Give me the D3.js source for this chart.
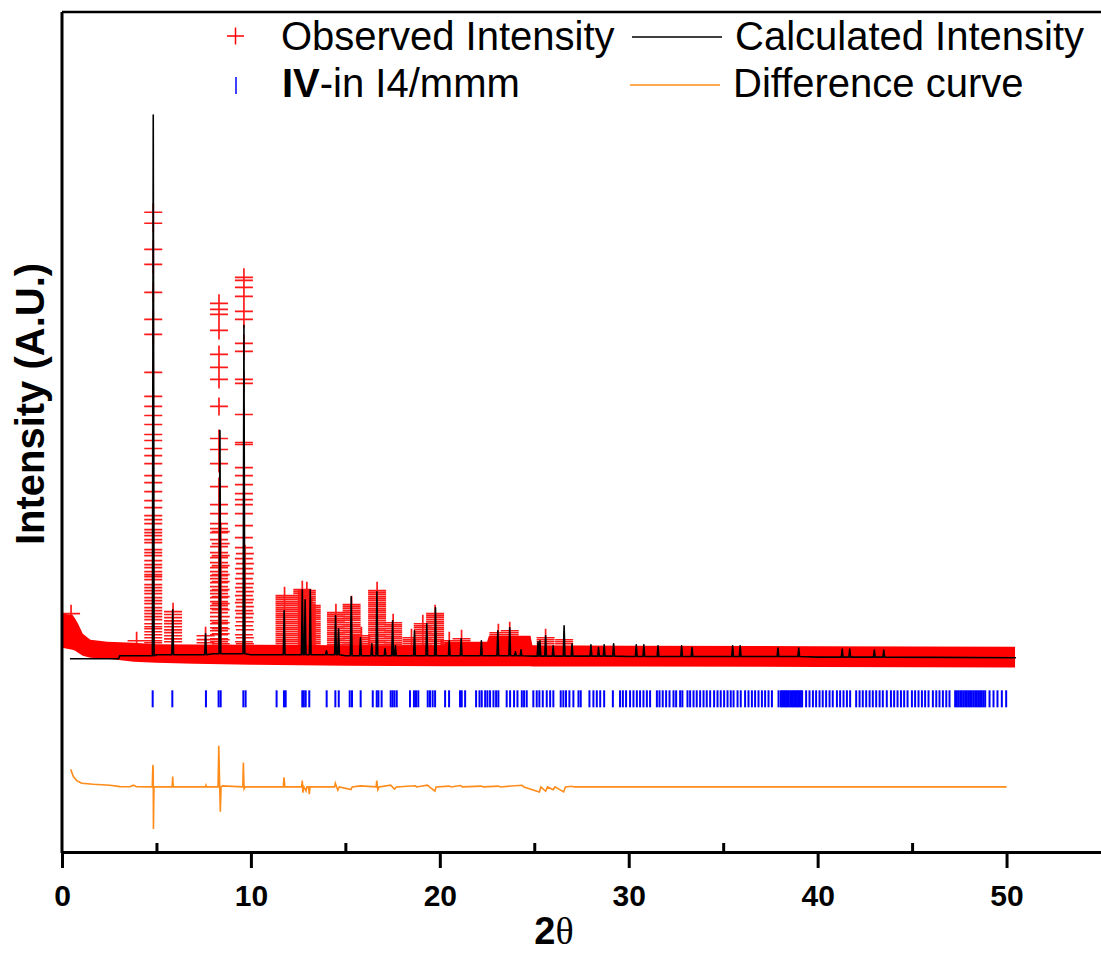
<!DOCTYPE html>
<html>
<head>
<meta charset="utf-8">
<script src="https://cdn.jsdelivr.net/npm/d3@7"></script>
<style>
  html, body { margin: 0; padding: 0; background: #fff; }
  svg { display: block; font-family: "Liberation Sans", Arial, sans-serif; }
</style>
</head>
<body>
<svg id="chart" width="1101" height="956"></svg>
<script>
// ---- data (2-theta in degrees, intensity in counts) ----
const xTicksMajor = [0, 10, 20, 30, 40, 50];
const xTicksMinor = [5, 15, 25, 35, 45];

// envelope of the dense observed points along the background: [2theta, low, high]
const obsBand = [
  [0.0, 1400, 3100], [0.55, 1300, 3050], [0.7, 1250, 2850], [0.85, 1150, 2600],
  [1.1, 1000, 2100], [1.5, 900, 1800], [2.4, 850, 1700], [3.8, 700, 1650],
  [5.0, 650, 1580], [7.0, 600, 1560], [10, 550, 1550], [15, 500, 1530],
  [20.2, 480, 1530], [20.3, 480, 1700], [22.5, 480, 1700], [22.6, 480, 2000],
  [24.8, 480, 2000], [24.9, 470, 1520], [30, 460, 1500], [40, 440, 1480],
  [50.45, 420, 1450]
];

// observed points stacked on the peak flanks: [2theta, [intensities]]
const obsPeaks = [
  [0.48, [3100]],
  [3.95, [1750]],
  [4.83, [23150, 22600, 21300, 20550, 19150, 17800, 17050, 15150, 13950, 13450, 13000, 12550,
          12050, 11750, 11350, 11000, 10600, 10000, 9650, 9200, 8750, 8400, 8000, 7800, 7600,
          7300, 7150, 7000, 6800, 6650, 6300, 6150, 6000, 5750, 5550, 5400, 5200, 5050, 4950,
          4800, 4550, 4400, 4250, 4100, 3900, 3750, 3600, 3400, 3250, 3100, 2950, 2800, 2600,
          2450, 2350, 2200, 2050, 1900, 1750, 1650, 1500]],
  [5.88, [3200, 3060, 2900, 2740, 2610, 2450, 2290, 2160, 2000, 1840, 1700]],
  [7.60, [2000, 1810, 1650]],
  [8.31, [18600, 18300, 18050, 17250, 16050, 15400, 14800, 13450, 11850, 11300, 10600, 9450,
          8550, 8100, 7600, 7350, 7150, 6800, 6450, 6150, 5900, 5650, 5400, 5200, 5000, 4850,
          4650, 4450, 4250, 4100, 3900, 3700, 3500, 3350, 3150, 2950, 2750, 2600, 2400, 2250,
          2050, 1850, 1700, 1500]],
  [8.40, [7200, 6600, 6000, 5500, 5050, 4700, 4300, 3950, 3600, 3300, 2950, 2650, 2350, 2100, 1800, 1600]],
  [9.63, [19900, 19750, 19400, 18950, 18200, 17800, 16600, 16200, 14800, 14600, 13050, 11650,
          11550, 10400, 10000, 9550, 9100, 8800, 8550, 8100, 7500, 6900, 6400, 5850, 5350, 4850,
          4400, 4000, 3650, 3250, 2900, 2500, 2050, 1700]],
  [9.68, [6100, 5600, 5100, 4600, 4200, 3800, 3450, 3100, 2700, 2300, 1900, 1600]],
  [11.78, [4000, 3900, 3810, 3700, 3600, 3510, 3400, 3300, 3210, 3100, 3000, 2910, 2800, 2700,
           2610, 2500, 2400, 2310, 2200, 2100, 2010, 1900, 1800, 1710, 1600, 1500]],
  [12.72, [4300, 4200, 4110, 4000, 3900, 3810, 3700, 3600, 3510, 3400, 3300, 3210, 3100, 3000,
           2910, 2800, 2700, 2610, 2500, 2400, 2310, 2200, 2100, 2010, 1900, 1800, 1710, 1600, 1500]],
  [12.96, [4250, 4150, 4060, 3950, 3850, 3760, 3650, 3550, 3460, 3350, 3250, 3160, 3050, 2950,
           2860, 2750, 2650, 2560, 2450, 2350, 2260, 2150, 2050, 1960, 1850, 1750, 1660, 1550]],
  [13.22, [3500, 3410, 3300, 3200, 3110, 3000, 2900, 2810, 2700, 2600, 2510, 2400, 2300, 2210,
           2100, 2000, 1910, 1800, 1700, 1610, 1500]],
  [14.50, [3150, 3050, 2960, 2850, 2750, 2660, 2550, 2450, 2360, 2250, 2150, 2060, 1950, 1850,
           1760, 1650, 1550]],
  [15.33, [3550, 3450, 3360, 3250, 3150, 3060, 2950, 2850, 2760, 2650, 2550, 2460, 2350, 2250,
           2160, 2050, 1950, 1860, 1750, 1650, 1560]],
  [15.85, [2000, 1900, 1810, 1700, 1600, 1510]],
  [16.68, [4250, 4150, 4060, 3950, 3850, 3760, 3650, 3550, 3460, 3350, 3250, 3160, 3050, 2950,
           2860, 2750, 2650, 2560, 2450, 2350, 2260, 2150, 2050, 1960, 1850, 1750, 1660, 1550]],
  [17.53, [2650, 2550, 2460, 2350, 2250, 2160, 2050, 1950, 1860, 1750, 1650, 1560]],
  [18.50, [1900, 1800, 1710, 1600, 1500]],
  [19.10, [2600, 2500, 2410, 2300, 2200, 2110, 2000, 1900, 1810, 1700, 1600, 1510]],
  [19.75, [3100, 3000, 2910, 2800, 2700, 2610, 2500, 2400, 2310, 2200, 2100, 2010, 1900, 1800,
           1710, 1600, 1500]],
  [20.50, [1750, 1650, 1550]],
  [21.15, [1850, 1750, 1650]],
  [23.10, [2150, 2050]],
  [23.70, [2250, 2150, 2050]],
  [25.60, [1900, 1800, 1700, 1600]],
  [26.58, [1800, 1700, 1600]]
];

// calculated profile: background knots and peak tops
const calcBg = [
  [0.42, 850], [3.0, 850], [3.05, 1000], [5, 1050], [8, 1100], [10, 1050], [15, 1000],
  [20, 1000], [25, 980], [30, 960], [40, 930], [50.5, 900]
];
const calcPeaks = [
  [4.83, 28000], [5.86, 3300], [7.60, 2100], [8.36, 12250], [9.63, 17500], [11.76, 3250],
  [12.72, 4300], [12.87, 3800], [13.14, 4300], [14.00, 1250], [14.48, 3000], [14.64, 2350],
  [15.31, 3950], [15.80, 1900], [16.40, 1600], [16.67, 4200], [17.10, 1350], [17.50, 2750],
  [17.65, 1500], [18.66, 2250], [19.31, 2600], [19.77, 3400], [20.50, 1750], [21.13, 1850],
  [22.20, 1750], [23.07, 2250], [23.70, 2400], [24.00, 1200], [24.30, 1300], [25.20, 1700],
  [25.30, 1750], [25.60, 2000], [26.00, 1500], [26.58, 2500], [27.00, 1600], [28.00, 1550],
  [28.40, 1415], [28.70, 1550], [29.20, 1600], [30.40, 1550], [30.80, 1550], [31.55, 1500],
  [32.80, 1500], [33.35, 1415], [35.50, 1500], [35.90, 1500], [37.90, 1385], [39.00, 1385],
  [41.30, 1335], [41.70, 1335], [43.00, 1285], [43.50, 1285]
];

// Bragg reflection positions, IV in I4/mmm
const braggTheta = [
  4.80, 5.84, 7.62, 8.29, 8.40, 9.60, 9.72, 11.36, 11.75, 11.84, 12.72, 12.80, 12.90, 13.09,
  14.01, 14.47, 14.65, 15.23, 15.35, 15.81, 16.45, 16.66, 16.75, 16.92, 17.40, 17.50, 17.60,
  17.72, 18.42, 18.63, 18.74, 18.86, 19.36, 19.48, 19.62, 19.75, 20.28, 20.49, 21.07, 21.16,
  21.34, 21.92, 22.10, 22.22, 22.40, 22.52, 22.66, 22.84, 22.98, 23.10, 23.54, 23.72, 23.93,
  24.11, 24.34, 24.46, 24.60, 24.95, 25.13, 25.27, 25.45, 25.66, 25.84, 26.01, 26.40, 26.54,
  26.68, 26.86, 27.07, 27.34, 27.46, 27.92, 28.13, 28.31, 28.49, 28.70, 29.16, 29.54, 29.69,
  29.86, 30.07, 30.25, 30.43, 30.60, 30.78, 30.96, 31.13, 31.49, 31.63, 31.80, 31.98, 32.16,
  32.37, 32.51, 32.72, 32.84, 33.11, 33.25, 33.43, 33.60, 33.78, 33.96, 34.13, 34.31, 34.52,
  34.70, 34.87, 35.05, 35.23, 35.40, 35.55, 35.76, 35.93, 36.16, 36.34, 36.52, 36.69, 36.87,
  37.05, 37.22, 37.40, 37.58, 37.93, 38.05, 38.12, 38.19, 38.26, 38.33, 38.40, 38.47, 38.55,
  38.62, 38.69, 38.76, 38.83, 38.90, 38.97, 39.04, 39.11, 39.18, 39.39, 39.57, 39.75, 39.92,
  40.10, 40.27, 40.45, 40.63, 40.80, 41.02, 41.19, 41.37, 41.55, 41.72, 42.04, 42.22, 42.39,
  42.57, 42.75, 42.92, 43.10, 43.28, 43.45, 43.66, 43.88, 44.05, 44.23, 44.41, 44.58, 44.76,
  44.99, 45.16, 45.34, 45.52, 45.69, 45.87, 46.10, 46.28, 46.45, 46.63, 46.81, 46.98, 47.28,
  47.37, 47.46, 47.55, 47.63, 47.72, 47.81, 47.90, 47.99, 48.07, 48.16, 48.25, 48.34, 48.43,
  48.52, 48.60, 48.69, 48.78, 48.87, 49.10, 49.31, 49.52, 49.75, 49.98
];

// difference curve (obs - calc), drawn shifted down
const diffPoints = [
  [0.46, 885], [0.6, 515], [0.78, 315], [1.04, 185], [1.66, 135], [2.54, 85], [3.07, 15],
  [3.6, 10], [3.78, 85], [3.95, 10], [4.78, 0], [4.81, 1100], [4.83, 850], [4.84, -2100],
  [4.87, 0], [5.83, 0], [5.86, 515], [5.89, 0], [7.59, 0], [7.62, 85], [7.65, 0], [8.26, 0],
  [8.30, 2050], [8.34, 300], [8.38, -1235], [8.42, 0], [8.5, 50], [9.57, 0], [9.60, 1215],
  [9.64, -100], [9.7, 0], [11.72, 0], [11.75, 485], [11.8, 0], [12.68, 0], [12.72, 315],
  [12.75, -285], [12.8, 0], [12.92, -200], [12.96, 0], [13.05, 0], [13.09, -365], [13.13, 0],
  [14.43, 0], [14.47, 185], [14.6, -165], [14.68, 0], [15.3, -135], [15.36, 0], [15.8, 50],
  [16.63, 0], [16.66, 315], [16.72, -135], [16.78, 0], [17.4, 85], [17.6, -110], [17.7, 0],
  [18.7, 60], [18.76, 0], [19.35, 85], [19.45, 0], [19.74, -215], [19.8, 0], [20.5, 40],
  [20.6, 0], [21.1, 70], [21.2, 0], [22.2, 40], [22.3, 0], [23.1, 40], [23.2, 0], [24.35, 85],
  [24.45, 0], [25.27, -250], [25.35, 0], [25.6, -215], [25.7, 0], [26.0, -135], [26.1, 0],
  [26.55, -250], [26.65, 0], [27.0, 30], [27.1, 0], [50, 0]
];

const DIFF_OFFSET = -5550;
const BRAGG_LEVEL = -1150;

// ---- drawing ----
const svg = d3.select("#chart");
const x = d3.scaleLinear().domain([0, 55]).range([62, 1101]);
const y = d3.scaleLinear().domain([-8800, 33150]).range([852, 12]);

const plot = svg.append("g");

// observed background band
plot.append("path")
  .datum(obsBand)
  .attr("d", d3.area().x(d => x(d[0])).y0(d => y(d[1])).y1(d => y(d[2])))
  .attr("fill", "#ff0000");

// observed "+" markers on peaks
const arm = 9;
let crosses = "";
obsPeaks.forEach(([t, levels]) => {
  levels.forEach(v => {
    const px = x(t), py = y(v);
    crosses += `M${px - arm},${py}H${px + arm}M${px},${py - arm}V${py + arm}`;
  });
});
plot.append("path")
  .attr("d", crosses)
  .attr("fill", "none")
  .attr("stroke", "#ff0000")
  .attr("stroke-width", 1.7)
  .attr("stroke-opacity", 0.9);

// calculated profile
const bgTheta = calcBg.map(d => d[0]);
const bgAt = t => calcBg[Math.max(0, d3.bisectRight(bgTheta, t) - 1)][1];
const hw = 0.045;
const calcVerts = calcBg.concat(
  calcPeaks.flatMap(([t, top]) => [[t - hw, bgAt(t)], [t, top], [t + hw, bgAt(t)]])
).sort((a, b) => a[0] - b[0]);

plot.append("path")
  .datum(calcVerts)
  .attr("d", d3.line().x(d => x(d[0])).y(d => y(d[1])))
  .attr("fill", "none")
  .attr("stroke", "#000")
  .attr("stroke-width", 1.6)
  .attr("stroke-linejoin", "round");

// Bragg ticks
plot.append("g").selectAll("line")
  .data(braggTheta)
  .join("line")
  .attr("x1", d => x(d)).attr("x2", d => x(d))
  .attr("y1", y(BRAGG_LEVEL) - 8.5).attr("y2", y(BRAGG_LEVEL) + 8.5)
  .attr("stroke", "#0000ff")
  .attr("stroke-width", 2);

// difference curve
plot.append("path")
  .datum(diffPoints)
  .attr("d", d3.line().x(d => x(d[0])).y(d => y(d[1] + DIFF_OFFSET)))
  .attr("fill", "none")
  .attr("stroke", "#ff8c1a")
  .attr("stroke-width", 1.6);

// ---- axes ----
const xAxis = svg.append("g")
  .attr("transform", "translate(0,852)")
  .call(d3.axisBottom(x).tickValues(xTicksMajor).tickSizeInner(16).tickSizeOuter(0).tickFormat(d3.format("d")));
xAxis.select(".domain").attr("stroke", "#000").attr("stroke-width", 3);
xAxis.selectAll(".tick line").attr("stroke", "#000").attr("stroke-width", 3);
xAxis.selectAll(".tick text")
  .attr("y", 54).attr("dy", null)
  .attr("fill", "#000")
  .style("font-family", '"Liberation Sans", Arial, sans-serif')
  .style("font-size", "30px").style("font-weight", "bold");

const xMinor = svg.append("g")
  .attr("transform", "translate(0,852)")
  .call(d3.axisTop(x).tickValues(xTicksMinor).tickSize(9).tickFormat(""));
xMinor.select(".domain").remove();
xMinor.selectAll(".tick line").attr("stroke", "#000").attr("stroke-width", 3);

// left axis line and top frame line
svg.append("line").attr("x1", 62).attr("x2", 62).attr("y1", 12).attr("y2", 853)
  .attr("stroke", "#000").attr("stroke-width", 3);
svg.append("line").attr("x1", 62).attr("x2", 1101).attr("y1", 12).attr("y2", 12)
  .attr("stroke", "#000").attr("stroke-width", 2.5);

// axis titles
svg.append("text")
  .attr("transform", "translate(44,404) rotate(-90)")
  .attr("text-anchor", "middle")
  .style("font-size", "40px").style("font-weight", "bold")
  .text("Intensity (A.U.)");

const xt = svg.append("text")
  .attr("x", 554).attr("y", 944)
  .attr("text-anchor", "middle")
  .style("font-size", "38px");
xt.append("tspan").style("font-weight", "bold").text("2");
xt.append("tspan").style("font-family", '"Liberation Serif", "DejaVu Serif", serif').text("θ");

// ---- legend ----
const lg = svg.append("g");
lg.append("path")
  .attr("d", "M227,36H244M235.5,27.5V44.5")
  .attr("stroke", "#ff0000").attr("stroke-width", 1.5);
lg.append("text").attr("x", 281).attr("y", 50).style("font-size", "40px").text("Observed Intensity");

lg.append("line").attr("x1", 236).attr("x2", 236).attr("y1", 77).attr("y2", 94)
  .attr("stroke", "#0000ff").attr("stroke-width", 1.5);
const t2 = lg.append("text").attr("x", 282).attr("y", 97).style("font-size", "40px");
t2.append("tspan").style("font-weight", "bold").text("IV");
t2.append("tspan").text("-in I4/mmm");

lg.append("line").attr("x1", 632).attr("x2", 722).attr("y1", 37).attr("y2", 37)
  .attr("stroke", "#000").attr("stroke-width", 1.5);
lg.append("text").attr("x", 735).attr("y", 50).style("font-size", "40px").text("Calculated Intensity");

lg.append("line").attr("x1", 630).attr("x2", 720).attr("y1", 85).attr("y2", 85)
  .attr("stroke", "#ff8c1a").attr("stroke-width", 1.5);
lg.append("text").attr("x", 733).attr("y", 97).style("font-size", "40px").text("Difference curve");
</script>
</body>
</html>
